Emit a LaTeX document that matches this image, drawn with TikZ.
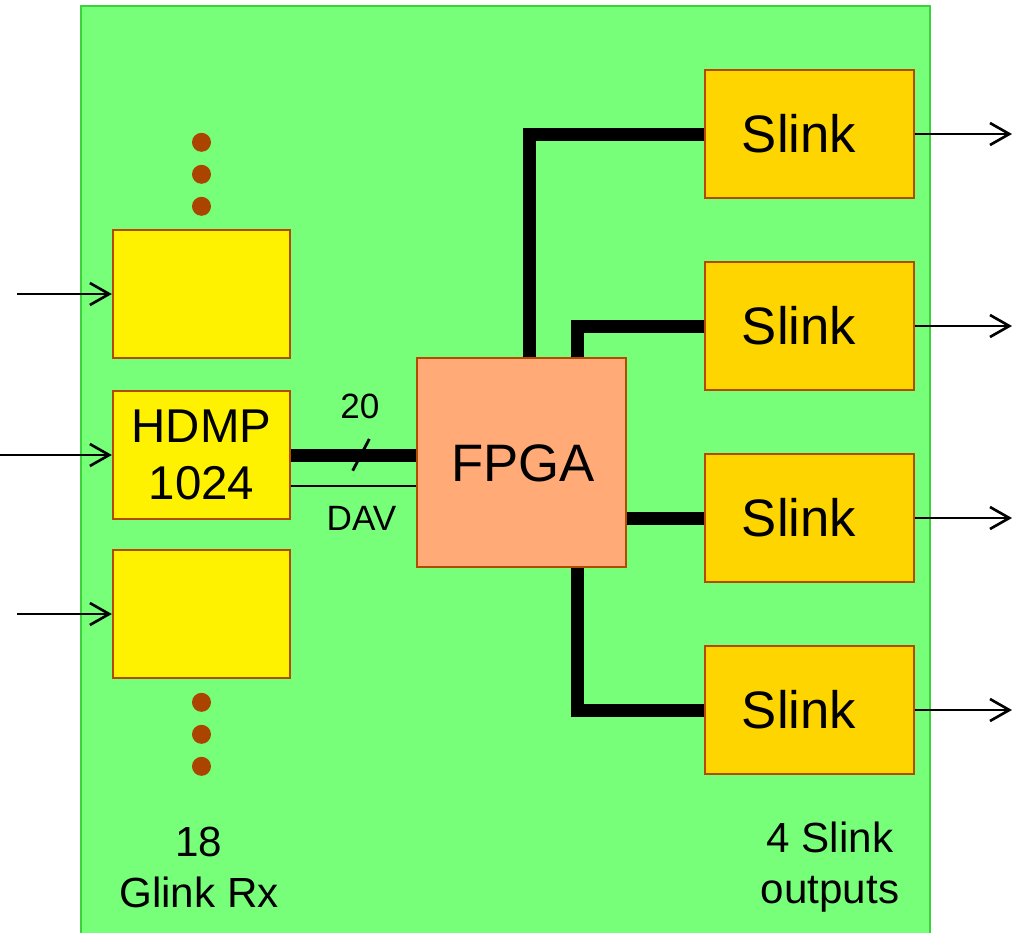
\documentclass[tikz,border=0pt]{standalone}
\usepackage{fontspec}
\setmainfont{Liberation Sans}
\usetikzlibrary{arrows.meta,calc}
\definecolor{bgreen}{RGB}{119,255,122}
\definecolor{bgreenline}{RGB}{60,210,60}
\definecolor{brownline}{RGB}{179,76,0}
\definecolor{dotbrown}{RGB}{170,68,0}
\definecolor{slinkfill}{RGB}{255,213,0}
\definecolor{fpgafill}{RGB}{255,170,119}
\tikzset{
  rxbox/.style={draw=brownline, line width=1.3pt, fill=yellow, minimum width=3.54cm, minimum height=2.56cm, inner sep=0pt},
  slinkbox/.style={draw=brownline, line width=1.3pt, fill=slinkfill, minimum width=4.18cm, minimum height=2.56cm, inner sep=0pt},
  fpgabox/.style={draw=brownline, line width=1.3pt, fill=fpgafill, minimum width=4.18cm, minimum height=4.18cm, inner sep=0pt},
  bus/.style={line width=7.4pt, line join=miter},
  sig/.style={line width=1.6pt},
  inarrow/.style={line width=1.5pt, -{Straight Barb[length=11pt,width=12.5pt,line width=1.5pt]}},
  dotmark/.style={circle, fill=dotbrown, minimum size=0.38cm, inner sep=0pt},
  bigtxt/.style={font=\fontsize{30}{36}\selectfont, inner sep=0pt},
  midtxt/.style={font=\fontsize{24}{29}\selectfont, align=center, inner sep=0pt},
  smalltxt/.style={font=\fontsize{20}{24}\selectfont, inner sep=0pt},
}
\begin{document}
\begin{tikzpicture}[x=0.02cm, y=-0.02cm]
\useasboundingbox (0,0) rectangle (1021,933);
\fill[bgreen] (81,6) rectangle (930,945);
\draw[bgreenline, line width=1.5pt] (81,945) -- (81,6) -- (930,6) -- (930,945);

% receivers
\node[rxbox] (rx1) at (201.5,294) {};
\node[rxbox, align=center, font=\fontsize{27}{32}\selectfont] (hdmp) at (201.5,455) {HDMP\\1024};
\node[rxbox] (rx3) at (201.5,614) {};

% dots
\node[dotmark] (d1) at (201.5,142.3) {};
\node[dotmark] (d2) at (201.5,174.3) {};
\node[dotmark] (d3) at (201.5,206.3) {};
\node[dotmark] (d4) at (201.5,702.3) {};
\node[dotmark] (d5) at (201.5,734.3) {};
\node[dotmark] (d6) at (201.5,766.3) {};

% FPGA
\node[fpgabox] (fpga) at (521.5,462.5) {};
\node[bigtxt] (fpgat) at (523,463) {FPGA};

% Slinks
\node[slinkbox] (s1) at (809.5,134) {};
\node[slinkbox] (s2) at (809.5,326) {};
\node[slinkbox] (s3) at (809.5,518) {};
\node[slinkbox] (s4) at (809.5,710) {};
\node[bigtxt] (s1t) at (799,134) {Slink};
\node[bigtxt] (s2t) at (799,326) {Slink};
\node[bigtxt] (s3t) at (799,518) {Slink};
\node[bigtxt] (s4t) at (799,710) {Slink};

% input arrows
\coordinate (in1) at (17,294);
\coordinate (in2) at (0,455);
\coordinate (in3) at (17,614);
\draw[inarrow] (in1) -- (rx1.west);
\draw[inarrow] (in2) -- (hdmp.west);
\draw[inarrow] (in3) -- (rx3.west);

% output arrows
\coordinate (o1) at (1012,134);
\coordinate (o2) at (1012,326);
\coordinate (o3) at (1012,518);
\coordinate (o4) at (1012,710);
\draw[inarrow] (s1.east) -- (o1);
\draw[inarrow] (s2.east) -- (o2);
\draw[inarrow] (s3.east) -- (o3);
\draw[inarrow] (s4.east) -- (o4);

% buses
\coordinate (c1) at (529.5,0);
\coordinate (c2) at (577.5,0);
\draw[bus] (fpga.north -| c1) |- (s1.west);
\draw[bus] (fpga.north -| c2) |- (s2.west);
\draw[bus] (s3.west -| fpga.east) -- (s3.west);
\draw[bus] (fpga.south -| c2) |- (s4.west);

% HDMP to FPGA
\draw[bus] (hdmp.east) -- (hdmp.east -| fpga.west);
\coordinate (davy) at (0,486);
\draw[sig] (hdmp.east |- davy) -- (fpga.west |- davy);
\coordinate (sl1) at (352.7,470.7);
\coordinate (sl2) at (369.3,439);
\draw[sig] (sl1) -- (sl2);
\node[smalltxt] (n20) at (360,406) {20};
\node[smalltxt] (dav) at (361.5,518) {DAV};

% bottom labels
\node[midtxt] (glink) at (199,867) {18\\Glink Rx};
\node[midtxt] (slo) at (830,867) {4 Slink\\outputs};
\end{tikzpicture}
\end{document}
